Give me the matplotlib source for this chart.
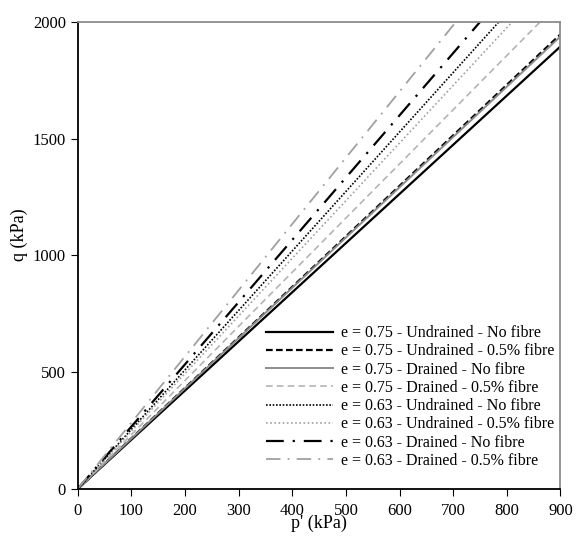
import numpy as np
import matplotlib.pyplot as plt

plt.rcParams['font.family'] = ['Liberation Serif', 'DejaVu Serif']

# end points of each straight line (p', q) in kPa, all start at origin
labels = ['e = 0.75 - Undrained - No fibre',
          'e = 0.75 - Undrained - 0.5% fibre',
          'e = 0.75 - Drained - No fibre',
          'e = 0.75 - Drained - 0.5% fibre',
          'e = 0.63 - Undrained - No fibre',
          'e = 0.63 - Undrained - 0.5% fibre',
          'e = 0.63 - Drained - No fibre',
          'e = 0.63 - Drained - 0.5% fibre']
p_end = [900, 900, 900, 862, 785, 810, 750, 705]
q_end = [1895, 1947, 1938, 2000, 2000, 2000, 2000, 2000]

colors = ['black', 'black', '#8c8c8c', '#b4b4b4', 'black', '#a0a0a0', 'black', '#a0a0a0']
styles = ['-', (0, (3, 1.5)), '-', (0, (4, 2.5)), (0, (1, 1)), (0, (1, 1.5)),
          (0, (8, 4, 1, 4)), (0, (8, 4, 1, 4))]
widths = [1.6, 1.6, 1.4, 1.2, 1.2, 1.2, 1.6, 1.3]

fig = plt.figure(figsize=(5.76, 5.36), dpi=100)
ax = fig.add_axes([0.135, 0.088, 0.838, 0.871])

for i in range(len(labels)):
    ax.plot([0, p_end[i]], [0, q_end[i]], color=colors[i], linestyle=styles[i],
            linewidth=widths[i], label=labels[i])

ax.set_xlim(0, 900)
ax.set_ylim(0, 2000)
ax.set_xticks(np.arange(0, 901, 100))
ax.set_yticks(np.arange(0, 2001, 500))
ax.tick_params(direction='out', labelsize=12, length=5)
ax.tick_params(axis='x', pad=5)
for s in ['top', 'right']:
    ax.spines[s].set_color('#8c8c8c')
    ax.spines[s].set_linewidth(1.3)
for s in ['left', 'bottom']:
    ax.spines[s].set_linewidth(1.3)

ax.set_xlabel("p' (kPa)", fontsize=13, labelpad=-3)
ax.set_ylabel('q (kPa)', fontsize=13)
ax.yaxis.set_label_coords(-0.104, 0.545)

ax.legend(loc='lower right', bbox_to_anchor=(1.017, 0.012), frameon=False,
          fontsize=11.5, handlelength=4.2, labelspacing=0.14, handletextpad=0.5)

plt.savefig('out.png', dpi=100)
